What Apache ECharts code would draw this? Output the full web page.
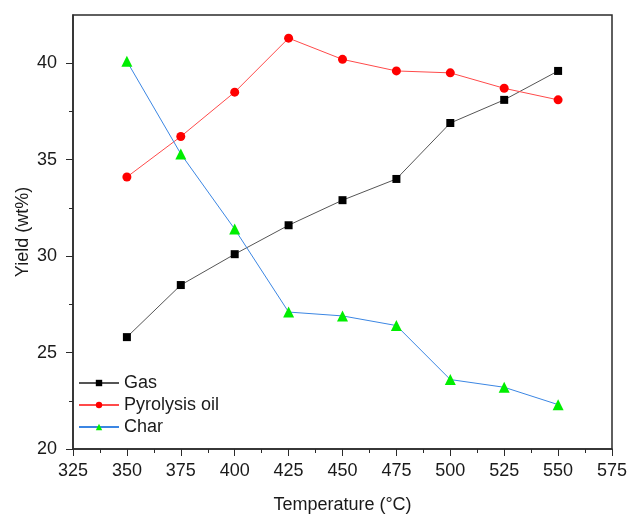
<!DOCTYPE html>
<html>
<head>
<meta charset="utf-8">
<script src="https://cdn.jsdelivr.net/npm/echarts@6/dist/echarts.min.js"></script>
<style>
  html, body { margin: 0; padding: 0; background: #fff; }
  #chart { width: 628px; height: 517px; }
</style>
</head>
<body>
<div id="chart"></div>
<script>
// temperatures (°C)
const temps = [350, 375, 400, 425, 450, 475, 500, 525, 550];
// yields (wt%)
const gas = [25.8, 28.5, 30.1, 31.6, 32.9, 34.0, 36.9, 38.1, 39.6];
const pyrolysisOil = [34.1, 36.2, 38.5, 41.3, 40.2, 39.6, 39.5, 38.7, 38.1];
const char = [40.1, 35.3, 31.4, 27.1, 26.9, 26.4, 23.6, 23.2, 22.3];

// y axis ticks
const yMajor = [20, 25, 30, 35, 40];
const yMinor = [22.5, 27.5, 32.5, 37.5];

const font = 'Liberation Sans, Arial, sans-serif';
const ink = '#1a1a1a';
const axisColor = '#2b2b2b';

function pairs(vals) {
  return temps.map((t, i) => [t, vals[i]]);
}

const chart = echarts.init(document.getElementById('chart'));

chart.setOption({
  animation: false,
  grid: {
    left: 73, right: 16, top: 15, bottom: 68,
    outerBoundsMode: 'none',
    containLabel: false,
    show: true, borderColor: axisColor, borderWidth: 1.5
  },
  legend: {
    orient: 'vertical',
    left: 73, top: 369,
    itemWidth: 40, itemHeight: 8, itemGap: 4,
    textStyle: { fontFamily: font, fontSize: 18, color: ink },
    data: ['Gas', 'Pyrolysis oil', 'Char']
  },
  xAxis: {
    type: 'value',
    min: 325, max: 575, interval: 25,
    name: 'Temperature (°C)',
    nameLocation: 'middle', nameGap: 47,
    nameMoveOverlap: false,
    nameTextStyle: { fontFamily: font, fontSize: 18, color: ink },
    axisLine: { lineStyle: { color: axisColor, width: 1.5 } },
    axisTick: { length: 7, lineStyle: { color: axisColor } },
    minorTick: { show: true, splitNumber: 2, length: 4, lineStyle: { color: axisColor } },
    axisLabel: { margin: 13, fontFamily: font, fontSize: 18, color: ink },
    splitLine: { show: false }
  },
  yAxis: [
    {
      type: 'value',
      min: 20, max: 42.5,
      name: 'Yield (wt%)',
      nameLocation: 'middle', nameGap: 41,
      nameMoveOverlap: false,
      nameTextStyle: { fontFamily: font, fontSize: 18, color: ink },
      axisLine: { show: true, lineStyle: { color: axisColor, width: 1.5 } },
      axisTick: { show: true, length: 7, customValues: yMajor, lineStyle: { color: axisColor } },
      axisLabel: { margin: 16, customValues: yMajor, fontFamily: font, fontSize: 18, color: ink },
      splitLine: { show: false }
    },
    {
      type: 'value',
      position: 'left',
      min: 20, max: 42.5,
      axisLine: { show: false },
      axisTick: { show: true, length: 4, customValues: yMinor, lineStyle: { color: axisColor } },
      axisLabel: { show: false },
      splitLine: { show: false }
    }
  ],
  series: [
    {
      name: 'Gas', type: 'line', data: pairs(gas),
      symbol: 'rect', symbolSize: 8,
      itemStyle: { color: '#000' },
      lineStyle: { color: '#555', width: 1 }
    },
    {
      name: 'Pyrolysis oil', type: 'line', data: pairs(pyrolysisOil),
      symbol: 'circle', symbolSize: 9,
      itemStyle: { color: '#ff0000' },
      lineStyle: { color: '#ff4a4a', width: 1 }
    },
    {
      name: 'Char', type: 'line', data: pairs(char),
      symbol: 'triangle', symbolSize: 11,
      itemStyle: { color: '#00ee00' },
      lineStyle: { color: '#3b86e3', width: 1 }
    }
  ]
});
</script>
</body>
</html>
